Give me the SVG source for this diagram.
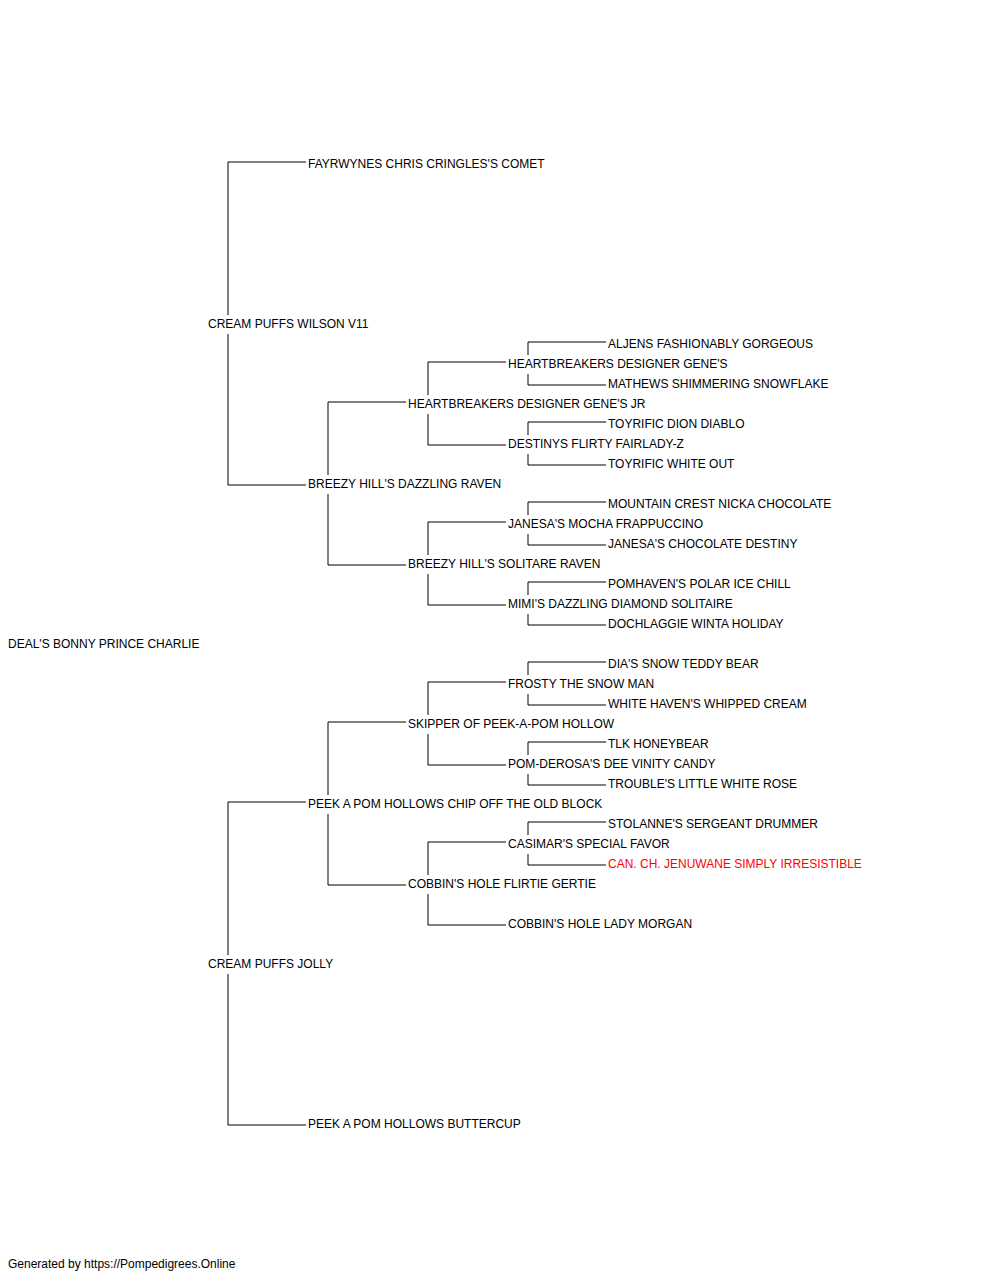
<svg xmlns="http://www.w3.org/2000/svg" width="1000" height="1280" viewBox="0 0 1000 1280">
<style>
text{font-family:"Liberation Sans",Arial,sans-serif;font-size:12px;fill:#000}
.red{fill:#ff0000}
.c path{fill:none;stroke:#000;stroke-width:1}
</style>
<rect width="1000" height="1280" fill="#fff"/>
<g id="connectors" class="c">
<path d="M306 162H228V315M228 334V485H306"/>
<path d="M306 802H228V955M228 974V1125H306"/>
<path d="M406 402H328V475M328 494V565H406"/>
<path d="M406 722H328V795M328 814V885H406"/>
<path d="M506 362H428V395M428 414V445H506"/>
<path d="M506 522H428V555M428 574V605H506"/>
<path d="M506 682H428V715M428 734V765H506"/>
<path d="M506 842H428V875M428 894V925H506"/>
<path d="M606 342H528V355M528 374V385H606"/>
<path d="M606 422H528V435M528 454V465H606"/>
<path d="M606 502H528V515M528 534V545H606"/>
<path d="M606 582H528V595M528 614V625H606"/>
<path d="M606 662H528V675M528 694V705H606"/>
<path d="M606 742H528V755M528 774V785H606"/>
<path d="M606 822H528V835M528 854V865H606"/>
</g>
<g id="n0"><text x="8" y="648">DEAL'S BONNY PRINCE CHARLIE</text></g>
<g id="n1"><text x="208" y="328">CREAM PUFFS WILSON V11</text></g>
<g id="n2"><text x="208" y="968">CREAM PUFFS JOLLY</text></g>
<g id="n3"><text x="308" y="168">FAYRWYNES CHRIS CRINGLES'S COMET</text></g>
<g id="n4"><text x="308" y="488">BREEZY HILL'S DAZZLING RAVEN</text></g>
<g id="n5"><text x="308" y="808">PEEK A POM HOLLOWS CHIP OFF THE OLD BLOCK</text></g>
<g id="n6"><text x="308" y="1128">PEEK A POM HOLLOWS BUTTERCUP</text></g>
<g id="n7"><text x="408" y="408">HEARTBREAKERS DESIGNER GENE'S JR</text></g>
<g id="n8"><text x="408" y="568">BREEZY HILL'S SOLITARE RAVEN</text></g>
<g id="n9"><text x="408" y="728">SKIPPER OF PEEK-A-POM HOLLOW</text></g>
<g id="n10"><text x="408" y="888">COBBIN'S HOLE FLIRTIE GERTIE</text></g>
<g id="n11"><text x="508" y="368">HEARTBREAKERS DESIGNER GENE'S</text></g>
<g id="n12"><text x="508" y="448">DESTINYS FLIRTY FAIRLADY-Z</text></g>
<g id="n13"><text x="508" y="528">JANESA'S MOCHA FRAPPUCCINO</text></g>
<g id="n14"><text x="508" y="608">MIMI'S DAZZLING DIAMOND SOLITAIRE</text></g>
<g id="n15"><text x="508" y="688">FROSTY THE SNOW MAN</text></g>
<g id="n16"><text x="508" y="768">POM-DEROSA'S DEE VINITY CANDY</text></g>
<g id="n17"><text x="508" y="848">CASIMAR'S SPECIAL FAVOR</text></g>
<g id="n18"><text x="508" y="928">COBBIN'S HOLE LADY MORGAN</text></g>
<g id="n19"><text x="608" y="348">ALJENS FASHIONABLY GORGEOUS</text></g>
<g id="n20"><text x="608" y="388">MATHEWS SHIMMERING SNOWFLAKE</text></g>
<g id="n21"><text x="608" y="428">TOYRIFIC DION DIABLO</text></g>
<g id="n22"><text x="608" y="468">TOYRIFIC WHITE OUT</text></g>
<g id="n23"><text x="608" y="508">MOUNTAIN CREST NICKA CHOCOLATE</text></g>
<g id="n24"><text x="608" y="548">JANESA'S CHOCOLATE DESTINY</text></g>
<g id="n25"><text x="608" y="588">POMHAVEN'S POLAR ICE CHILL</text></g>
<g id="n26"><text x="608" y="628">DOCHLAGGIE WINTA HOLIDAY</text></g>
<g id="n27"><text x="608" y="668">DIA'S SNOW TEDDY BEAR</text></g>
<g id="n28"><text x="608" y="708">WHITE HAVEN'S WHIPPED CREAM</text></g>
<g id="n29"><text x="608" y="748">TLK HONEYBEAR</text></g>
<g id="n30"><text x="608" y="788">TROUBLE'S LITTLE WHITE ROSE</text></g>
<g id="n31"><text x="608" y="828">STOLANNE'S SERGEANT DRUMMER</text></g>
<g id="n32"><text x="608" y="868" class="red">CAN. CH. JENUWANE SIMPLY IRRESISTIBLE</text></g>
<g id="footer"><text x="8" y="1268">Generated by https://Pompedigrees.Online</text></g>
</svg>
